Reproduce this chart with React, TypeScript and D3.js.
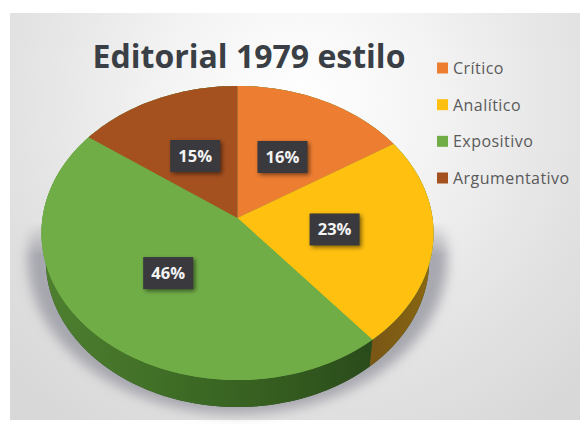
import React from "react";
import * as d3 from "d3";

const categories = ["Crítico", "Analítico", "Expositivo", "Argumentativo"];
const shares = [16, 23, 46, 15];
const topColors = ["#ed7d31", "#ffc010", "#70ad47", "#a5501f"];
const sideColors = ["#8a4a1c", "url(#sideYellow)", "url(#sideGreen)", "#5f2f12"];
const titleText = "Editorial 1979 estilo";

const W = 580;
const H = 424;
const apex = { x: 237.5, y: 218 };
const radiusX = 195;
const radiusY = 145.5;
const tilt = 0.102;
const depth = 27;

// Perspective projection of a point on the unit disc onto the tilted pie plane.
function project(theta: number, r: number): [number, number] {
  const u = r * Math.sin(theta);
  const v = -r * Math.cos(theta);
  const d = 1 - tilt * v;
  return [apex.x + (radiusX * u) / d, apex.y + (radiusY * v) / d];
}

const toPath = d3.line();

function rim(a0: number, a1: number, r = 1): [number, number][] {
  const n = Math.max(2, Math.ceil(((a1 - a0) / (Math.PI * 2)) * 240));
  return d3.range(n + 1).map((i) => project(a0 + ((a1 - a0) * i) / n, r));
}

// Lower rim: shifted down by the extrusion and pulled in slightly for depth.
function lowered(p: [number, number]): [number, number] {
  return [apex.x + (p[0] - apex.x) * 0.978, p[1] + depth];
}

// Outline of the cast shadow, a little wider than the disc and dropped below it.
function shadowed(p: [number, number]): [number, number] {
  return [apex.x + (p[0] - apex.x) * 1.07, apex.y + (p[1] - apex.y) * 1.06 + 24];
}

function sidePath(a0: number, a1: number) {
  const upper = rim(a0, a1);
  const lower = upper.map(lowered).reverse();
  return toPath([...upper, ...lower]) + "Z";
}

const pieLayout = d3.pie<number>().sort(null).value((d) => d);
const arcs = pieLayout(shares);
const labelFormat = (v: number) => `${v}%`;

export default function App() {
  const legendY = d3.scalePoint<string>().domain(categories).range([68, 178]);
  const full = toPath(rim(0, Math.PI * 2)) + "Z";
  const fullLower = toPath(rim(0, Math.PI * 2).map(lowered)) + "Z";
  const shadow = toPath(rim(0, Math.PI * 2).map(shadowed)) + "Z";
  return (
    <svg
      width={W}
      height={H}
      viewBox={`0 0 ${W} ${H}`}
      style={{ position: "absolute", left: 0, top: 0, display: "block" }}
      fontFamily="'Open Sans', 'Noto Sans', sans-serif"
    >
      <defs>
        <radialGradient id="panel" gradientUnits="userSpaceOnUse" cx={300} cy={100} r={400}>
          <stop offset="0" stopColor="#ffffff" />
          <stop offset="0.3" stopColor="#f5f5f5" />
          <stop offset="0.7" stopColor="#e3e3e3" />
          <stop offset="1" stopColor="#d8d8d8" />
        </radialGradient>
        <linearGradient id="sideGreen" gradientUnits="userSpaceOnUse" x1={40} x2={376} y1={0} y2={0}>
          <stop offset="0" stopColor="#4f8030" />
          <stop offset="0.45" stopColor="#3c6a24" />
          <stop offset="0.75" stopColor="#345a1f" />
          <stop offset="1" stopColor="#294a1b" />
        </linearGradient>
        <linearGradient id="sideYellow" gradientUnits="userSpaceOnUse" x1={376} x2={434} y1={0} y2={0}>
          <stop offset="0" stopColor="#7a5715" />
          <stop offset="1" stopColor="#8a6812" />
        </linearGradient>
        <linearGradient id="shadowFade" gradientUnits="userSpaceOnUse" x1={0} x2={0} y1={222} y2={255}>
          <stop offset="0" stopColor="#000" />
          <stop offset="1" stopColor="#fff" />
        </linearGradient>
        <mask id="shadowMask" maskUnits="userSpaceOnUse" x={0} y={0} width={W} height={H}>
          <rect width={W} height={H} fill="url(#shadowFade)" />
        </mask>
        <filter id="soft" x="-20%" y="-20%" width="140%" height="140%">
          <feGaussianBlur stdDeviation="6" />
        </filter>
        <filter id="boxShadow" x="-30%" y="-30%" width="160%" height="160%">
          <feGaussianBlur stdDeviation="2" />
        </filter>
      </defs>

      <rect width={W} height={H} fill="#ffffff" />
      <rect x={10} y={13} width={W - 10} height={407} fill="url(#panel)" />

      {/* Soft cast shadow below the disc */}
      <g mask="url(#shadowMask)">
        <path d={shadow} fill="#9c9ca6" fillOpacity={0.85} filter="url(#soft)" />
      </g>

      {/* Extruded wall */}
      <path d={fullLower} fill="#2e4d1e" />
      {arcs.map((a, i) => (
        <path key={i} d={sidePath(a.startAngle, a.endAngle)} fill={sideColors[i]} />
      ))}

      {/* Slices on the top face */}
      <path d={full} fill={topColors[2]} />
      {arcs.map((a, i) => (
        <path
          key={i}
          d={toPath([project(0, 0), ...rim(a.startAngle, a.endAngle)]) + "Z"}
          fill={topColors[i]}
        />
      ))}

      {/* Data labels */}
      {arcs.map((a, i) => {
        const [x, y] = project((a.startAngle + a.endAngle) / 2, 0.5);
        return (
          <g key={i} transform={`translate(${x},${y})`}>
            <rect x={-23} y={-14} width={50} height={32} fill="#000" fillOpacity={0.5} filter="url(#boxShadow)" />
            <rect x={-25} y={-16} width={50} height={32} fill="#3a3a3e" />
            <text x={0} y={6} textAnchor="middle" fontSize={16.5} fontWeight={700} fill="#f4f4f4">
              {labelFormat(shares[i])}
            </text>
          </g>
        );
      })}

      <text x={249} y={68} textAnchor="middle" fontSize={32} fontWeight={700} fill="#3a3f46">
        {titleText}
      </text>

      {/* Legend */}
      {categories.map((c, i) => (
        <g key={c} transform={`translate(437,${legendY(c)})`}>
          <rect x={0} y={-5.5} width={11} height={11} fill={topColors[i]} />
          <text x={16} y={6} fontSize={16} letterSpacing={0.45} fill="#5a5a5a">
            {c}
          </text>
        </g>
      ))}
    </svg>
  );
}
